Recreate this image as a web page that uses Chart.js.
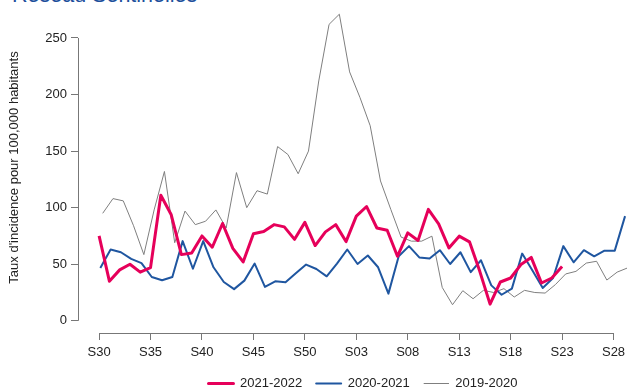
<!DOCTYPE html>
<html lang="fr">
<head>
<meta charset="utf-8">
<title>Réseau Sentinelles</title>
<script src="https://cdn.jsdelivr.net/npm/chart.js@4.4.1/dist/chart.umd.min.js"></script>
<style>
  html, body { margin: 0; padding: 0; background: #fff; overflow: hidden; }
  body { width: 627px; height: 387px; position: relative; }
  #titre {
    position: absolute; left: 12px; top: -15px;
    font: 21.5px "Liberation Sans", Arial, sans-serif; line-height: 1;
    color: #1d4f9c; white-space: nowrap;
  }
  #wrap { position: absolute; left: 0; top: 0; width: 660px; height: 420px; }
</style>
</head>
<body>
<div id="titre">Réseau Sentinelles</div>
<div id="wrap"><canvas id="incidenceChart"></canvas></div>
<script>
document.addEventListener("DOMContentLoaded", function () {

// weekly incidence per 100,000, one array per season (index 0 = week 30)
var saison2122 = [75, 35, 45, 50, 43, 47, 111, 94, 58.5, 60, 75, 65, 86, 64, 52, 77,
    79, 85, 83, 72, 87, 66.5, 78.6, 85, 70, 92.5, 101, 82, 80, 57, 77.7, 71, 98.5,
    85.7, 64.4, 74.8, 69.8, 43.7, 14.7, 34.3, 37.8, 49.7, 56, 33.4, 37.8, 48];
var saison2021 = [46.7, 63, 60.6, 54.7, 51, 38.7, 35.8, 38.7, 70.4, 46, 70.4, 47.3,
    34.3, 28, 35.5, 50.6, 30, 34.9, 34, 42, 49.7, 45.8, 39.3, 50.6, 63, 50.2, 57.7,
    47.3, 24, 57, 66, 56, 55, 62.4, 50.2, 60.6, 43, 53.5, 31.3, 23, 28.4, 59.4, 44.4,
    29, 37.8, 66, 51.7, 62.4, 57, 62, 62, 92.5];
var saison1920 = [95, 108, 106, 84, 58.5, 98, 132, 69, 97, 85, 88, 98, 82, 131, 100,
    115, 112, 154, 147, 130, 150, 212, 262, 271, 220, 197.5, 172.4, 123.6, 98.5, 74,
    70.4, 70.4, 74.8, 29.5, 14.2, 26.6, 19.5, 26.9, 25, 28.4, 21, 26.9, 25, 24.5, 32,
    41.4, 43.7, 51, 52.6, 36, 43, 46.7];

// week alignment of each season against the 2021-2022 calendar
var decalage = [0, 0.12, 0.35];

var saisons = ['2021-2022', '2020-2021', '2019-2020'];
var couleurs = ['#e6005a', '#1f56a0', '#7f7f7f'];
var epaisseurs = [3, 2, 1];

// x tick positions (weeks since S30) and their labels
var semaines = [0, 5, 10, 15, 20, 25, 30, 35, 40, 45, 50];
var etiquettesSemaines = ['S30', 'S35', 'S40', 'S45', 'S50', 'S03', 'S08', 'S13', 'S18', 'S23', 'S28'];
var ticksY = [0, 50, 100, 150, 200, 250];

function versPoints(valeurs, d) {
    return valeurs.map(function (v, i) { return { x: i + d, y: v }; });
}

var series = [saison2122, saison2021, saison1920];
var datasets = series.map(function (valeurs, k) {
    return {
        label: saisons[k],
        data: versPoints(valeurs, decalage[k]),
        borderColor: couleurs[k],
        backgroundColor: couleurs[k],
        borderWidth: epaisseurs[k],
        pointRadius: 0,
        tension: 0,
        borderJoinStyle: 'round',
        borderCapStyle: 'butt',
        fill: false
    };
});

// axis lines that only run between the first and last tick
var axesCourts = {
    id: 'axesCourts',
    afterDraw: function (chart) {
        var ctx = chart.ctx, xs = chart.scales.x, ys = chart.scales.y;
        var a = chart.chartArea;
        ctx.save();
        ctx.strokeStyle = '#777';
        ctx.lineWidth = 1;
        ctx.beginPath();
        var xl = Math.round(a.left) + 0.5;
        ctx.moveTo(xl, ys.getPixelForValue(ticksY[0]));
        ctx.lineTo(xl, ys.getPixelForValue(ticksY[ticksY.length - 1]));
        var yb = Math.round(a.bottom) + 0.5;
        ctx.moveTo(xs.getPixelForValue(semaines[0]), yb);
        ctx.lineTo(xs.getPixelForValue(semaines[semaines.length - 1]), yb);
        ctx.stroke();
        ctx.restore();
    }
};

var police = { family: '"Liberation Sans", Arial, sans-serif', size: 13 };

var ctx = document.getElementById('incidenceChart').getContext('2d');
new Chart(ctx, {
    type: 'line',
    data: { datasets: datasets },
    plugins: [axesCourts],
    options: {
        responsive: true,
        maintainAspectRatio: false,
        animation: false,
        layout: { padding: { top: 2, right: 12, bottom: 20, left: 0 } },
        plugins: {
            legend: {
                position: 'bottom',
                fullSize: false,
                labels: {
                    boxWidth: 25,
                    boxHeight: 0,
                    padding: 14,
                    color: '#222',
                    font: police
                }
            },
            tooltip: { enabled: false }
        },
        scales: {
            x: {
                type: 'linear',
                min: -2.05,
                max: 53.35,
                afterBuildTicks: function (s) {
                    s.ticks = semaines.map(function (v) { return { value: v }; });
                },
                afterFit: function (s) {
                    s.height = 30;
                    s.paddingLeft = 0;
                    s.paddingRight = 0;
                },
                border: { display: false },
                grid: { drawOnChartArea: false, drawTicks: true, tickLength: 7, color: '#777' },
                ticks: {
                    color: '#222',
                    font: police,
                    padding: 5,
                    maxRotation: 0,
                    autoSkip: false,
                    callback: function (v) {
                        var k = semaines.indexOf(v);
                        return k >= 0 ? etiquettesSemaines[k] : '';
                    }
                }
            },
            y: {
                min: -10.8,
                max: 281.8,
                afterBuildTicks: function (s) {
                    s.ticks = ticksY.map(function (v) { return { value: v }; });
                },
                afterFit: function (s) {
                    s.width = 78;
                    s.paddingTop = 0;
                    s.paddingBottom = 0;
                },
                border: { display: false },
                grid: { drawOnChartArea: false, drawTicks: true, tickLength: 7, color: '#777' },
                ticks: { color: '#222', font: police, padding: 4 },
                title: {
                    display: true,
                    text: "Taux d'incidence pour 100,000 habitants",
                    color: '#222',
                    font: police,
                    padding: { top: 7, bottom: 0 }
                }
            }
        }
    }
});

});
</script>
</body>
</html>
